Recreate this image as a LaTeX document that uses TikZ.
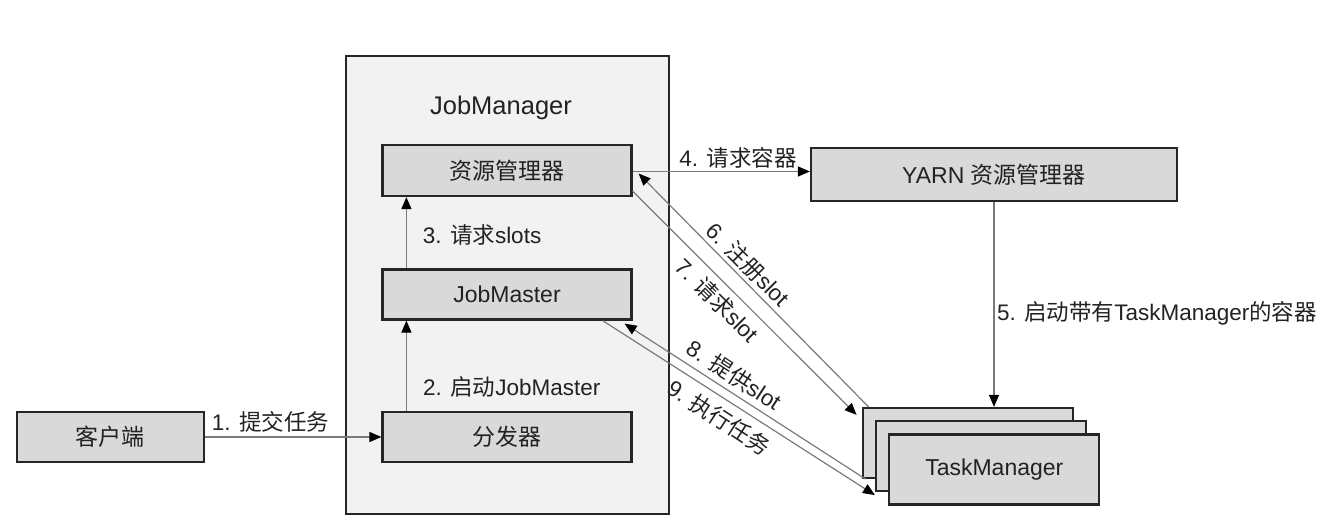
\documentclass[tikz,border=0pt]{standalone}
\usepackage{fontspec}
\setmainfont{Liberation Sans}
\newfontfamily\cjk{Noto Sans CJK SC}
\usetikzlibrary{arrows.meta,calc}
\definecolor{boxfill}{HTML}{D9D9D9}
\definecolor{jmfill}{HTML}{F2F2F2}
\definecolor{edgecol}{HTML}{262626}
\definecolor{linecol}{HTML}{7A7A7A}
\definecolor{txtcol}{HTML}{222222}
\begin{document}
\begin{tikzpicture}[x=1pt,y=-1pt,
  box/.style={draw=edgecol,line width=2.2pt,fill=boxfill,inner sep=0pt,text=txtcol,
    font=\fontsize{23}{27}\selectfont},
  conn/.style={draw=linecol,line width=1.2pt,-{Triangle[length=12pt,width=10pt,fill=black,color=black]}},
  lbl/.style={inner sep=0pt,text=txtcol,font=\fontsize{22.5}{27}\selectfont}]
\useasboundingbox (0,0) rectangle (1333,532);
% JobManager container
\node[draw=edgecol,line width=1.6pt,fill=jmfill,minimum width=323pt,minimum height=458pt,inner sep=0pt]
  (jmgr) at (507.4,285) {};
\node[lbl,font=\fontsize{25.5}{30}\selectfont] (jmtitle) at (501,108) {JobManager};
% boxes
\node[box,minimum width=249pt,minimum height=51pt] (rm) at (507,170.5) {\cjk 资源管理器};
\node[box,minimum width=249pt,minimum height=50pt] (jm) at (507,294.5) {JobMaster};
\node[box,minimum width=249pt,minimum height=50pt] (disp) at (507,437) {\cjk 分发器};
\node[box,minimum width=187pt,minimum height=50pt] (client) at (110.3,437) {\cjk 客户端};
\node[box,minimum width=366pt,minimum height=53pt] (yarn) at (994,174.5) {YARN {\cjk 资源管理器}};
\node[box,minimum width=210pt,minimum height=70pt] (tm1) at (967.7,443) {};
\node[box,minimum width=210pt,minimum height=70pt] (tm2) at (981,456) {};
\node[box,minimum width=210pt,minimum height=70pt] (tm3) at (994.3,469.5) {TaskManager};
% connectors
\draw[conn] (client.east) -- (disp.west);
\draw[conn] ($(disp.north west)+(25,0)$) -- ($(jm.south west)+(25,0)$);
\draw[conn] ($(jm.north west)+(25,0)$) -- ($(rm.south west)+(25,0)$);
\draw[conn] ($(rm.east)+(0,1)$) -- ($(rm.east -| yarn.west)+(0,1)$);
\draw[conn] (yarn.south) -- (yarn.south |- tm1.north);
\draw[conn] ($(tm1.north west)+(7,0)$) -- ($(rm.east)+(6,3)$);
\draw[conn] ($(rm.south east)+(0,-6)$) -- ($(tm1.north west)+(-5,8)$);
\draw[conn] ($(tm1.south west)+(4,0)$) -- ($(jm.south east)+(-8,3)$);
\draw[conn] ($(jm.south east)+(-30,0)$) -- ($(tm2.south west)+(0,3)$);
% labels
\node[lbl] (l1) at (270.5,421.7) {1. {\cjk 提交任务}};
\node[lbl,anchor=west] (l2) at (423,386.7) {2. {\cjk 启动}JobMaster};
\node[lbl,anchor=west] (l3) at (422.7,235) {3. {\cjk 请求}slots};
\node[lbl] (l4) at (738,158) {4. {\cjk 请求容器}};
\node[lbl,anchor=west] (l5) at (997,313) {5. {\cjk 启动带有}TaskManager{\cjk 的容器}};
\node[lbl,rotate=-45] (l6) at (748.3,264) {6. {\cjk 注册}slot};
\node[lbl,rotate=-45] (l7) at (717.3,300) {7. {\cjk 请求}slot};
\node[lbl,rotate=-33] (l8) at (734,375) {8. {\cjk 提供}slot};
\node[lbl,rotate=-33] (l9) at (719,417.3) {9. {\cjk 执行任务}};
\end{tikzpicture}
\end{document}
